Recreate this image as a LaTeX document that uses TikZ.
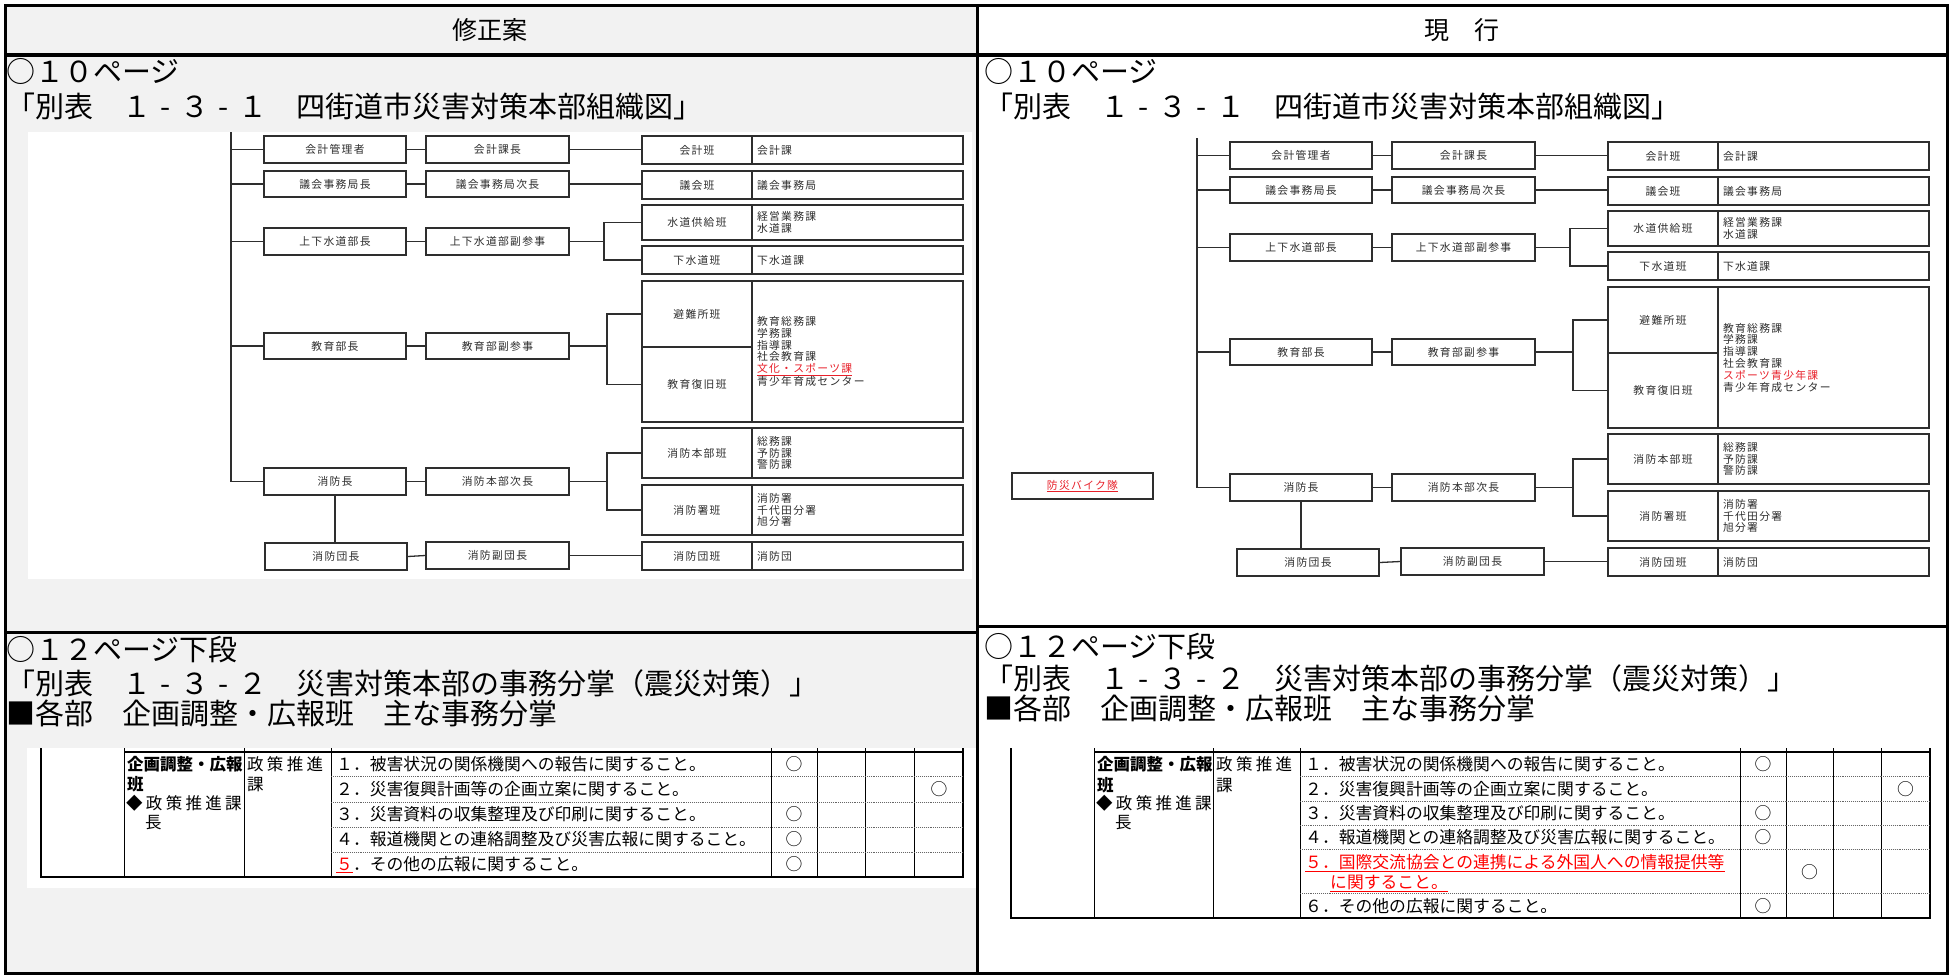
\documentclass[tikz,border=0pt]{standalone}
\usepackage{fontspec}
\setmainfont{Noto Sans CJK JP}
\newfontfamily\jpls[LetterSpace=20]{Noto Sans CJK JP}
\newfontfamily\jpch[LetterSpace=12]{Noto Sans CJK JP}
\newcommand\hy{\makebox[1em][c]{-}}
\definecolor{bggray}{HTML}{F2F2F2}
\definecolor{ink}{HTML}{2E2E2E}
\definecolor{redtxt}{HTML}{E8202A}
\definecolor{tred}{HTML}{FF0000}
\tikzset{
 frameline/.style={line width=3pt, black},
 cbox/.style={draw=ink, line width=1.6pt, fill=white, inner sep=0pt, font=\jpch\fontsize{10.8}{11.8}\selectfont, text=ink},
 rcell/.style={cbox, inner xsep=5pt, text width=201pt, align=left},
 cline/.style={draw=ink, line width=1.3pt},
 head/.style={inner sep=0pt, anchor=west, font=\fontsize{29}{32}\selectfont},
 ttext/.style={inner sep=0pt, anchor=west, font=\fontsize{16.8}{20}\selectfont},
 tbold/.style={inner sep=0pt, anchor=west, font=\bfseries\fontsize{16.5}{20}\selectfont},
 tsp/.style={inner sep=0pt, anchor=west, font=\jpls\fontsize{16.5}{20}\selectfont},
 circ/.style={inner sep=0pt, font=\fontsize{16.8}{20}\selectfont},
 tv/.style={line width=0.9pt, black},
 tdot/.style={line width=0.9pt, black!60, densely dotted},
 tborder/.style={line width=2.5pt, black},
}
\newcommand\orgchart[6]{%
\begin{scope}[shift={(#2,#3)}]
 \node[cbox, minimum width=142, minimum height=27] (#1a1) at (335,149.5) {会計管理者};
 \node[cbox, minimum width=142, minimum height=26] (#1a2) at (335,184) {議会事務局長};
 \node[cbox, minimum width=142, minimum height=27] (#1a3) at (335,241.5) {上下水道部長};
 \node[cbox, minimum width=142, minimum height=26] (#1a4) at (335,346) {教育部長};
 \node[cbox, minimum width=142, minimum height=27] (#1a5) at (335,481.5) {消防長};
 \node[cbox, minimum width=142, minimum height=27] (#1a6) at (336+#4,556.5) {消防団長};
 \node[cbox, minimum width=143, minimum height=27] (#1b1) at (497.5,149.5) {会計課長};
 \node[cbox, minimum width=143, minimum height=26] (#1b2) at (497.5,184) {議会事務局次長};
 \node[cbox, minimum width=143, minimum height=27] (#1b3) at (497.5,241.5) {上下水道部副参事};
 \node[cbox, minimum width=143, minimum height=26] (#1b4) at (497.5,346) {教育部副参事};
 \node[cbox, minimum width=143, minimum height=27] (#1b5) at (497.5,481.5) {消防本部次長};
 \node[cbox, minimum width=143, minimum height=27] (#1b6) at (497.5+#5,555.5) {消防副団長};
 \node[cbox, minimum width=110, minimum height=28] (#1c1) at (697,150) {会計班};
 \node[rcell, minimum height=28] (#1d1) at (857.5,150) {会計課};
 \node[cbox, minimum width=110, minimum height=28] (#1c2) at (697,185) {議会班};
 \node[rcell, minimum height=28] (#1d2) at (857.5,185) {議会事務局};
 \node[cbox, minimum width=110, minimum height=35] (#1c3) at (697,222.5) {水道供給班};
 \node[rcell, minimum height=35] (#1d3) at (857.5,222.5) {経営業務課\\水道課};
 \node[cbox, minimum width=110, minimum height=28] (#1c4) at (697,260) {下水道班};
 \node[rcell, minimum height=28] (#1d4) at (857.5,260) {下水道課};
 \node[cbox, minimum width=110, minimum height=66] (#1c5) at (697,314) {避難所班};
 \node[cbox, minimum width=110, minimum height=75] (#1c6) at (697,384.5) {教育復旧班};
 \node[rcell, minimum height=141] (#1d5) at (857.5,351.5) {教育総務課\\学務課\\指導課\\社会教育課\\#6\\青少年育成センター};
 \node[cbox, minimum width=110, minimum height=50] (#1c7) at (697,453) {消防本部班};
 \node[rcell, minimum height=50] (#1d7) at (857.5,453) {総務課\\予防課\\警防課};
 \node[cbox, minimum width=110, minimum height=50] (#1c8) at (697,510) {消防署班};
 \node[rcell, minimum height=50] (#1d8) at (857.5,510) {消防署\\千代田分署\\旭分署};
 \node[cbox, minimum width=110, minimum height=28] (#1c9) at (697,556) {消防団班};
 \node[rcell, minimum height=28] (#1d9) at (857.5,556) {消防団};
 \coordinate (#1t0) at (231,132);
 \coordinate (#1j3) at (604,241.5);
 \coordinate (#1j4) at (607,346);
 \coordinate (#1j5) at (607,481.5);
 \draw[cline] (#1t0) -- (#1t0 |- #1a5.west);
 \foreach \k in {1,...,5} {
   \draw[cline] (#1a\k.west) -- (#1a\k.west -| #1t0);
   \draw[cline] (#1a\k.east) -- (#1b\k.west);
 }
 \draw[cline] (#1a6.east) -- (#1b6.west);
 \draw[cline] (#1a5.south) -- (#1a5.south |- #1a6.north);
 \draw[cline] (#1b1.east) -- (#1b1.east -| #1c1.west);
 \draw[cline] (#1b2.east) -- (#1b2.east -| #1c2.west);
 \draw[cline] (#1b6.east) -- (#1b6.east -| #1c9.west);
 \draw[cline] (#1b3.east) -- (#1j3);
 \draw[cline] (#1c3.west) -- (#1c3.west -| #1j3) -- (#1c4.west -| #1j3) -- (#1c4.west);
 \draw[cline] (#1b4.east) -- (#1j4);
 \draw[cline] (#1c5.west) -- (#1c5.west -| #1j4) -- (#1c6.west -| #1j4) -- (#1c6.west);
 \draw[cline] (#1b5.east) -- (#1j5);
 \draw[cline] (#1c7.west) -- (#1c7.west -| #1j5) -- (#1c8.west -| #1j5) -- (#1c8.west);
\end{scope}}
\begin{document}
\begin{tikzpicture}[x=1pt,y=-1pt]
\useasboundingbox (0,0) rectangle (1951,975);
\fill[white] (0,0) rectangle (1951,975);
\fill[bggray] (5,5) rectangle (977,973);
% header
\node (hL) at (490,30) {\fontsize{25}{28}\selectfont 修正案};
\node (hR) at (1462,30) {\fontsize{25}{28}\selectfont 現　行};
% top headings
\node[head] (tl1) at (6,71) {○１０ページ};
\node[head] (tl2) at (6,106) {「別表　１\hy３\hy１　四街道市災害対策本部組織図」};
\node[head] (tr1) at (984,71) {○１０ページ};
\node[head] (tr2) at (984,106) {「別表　１\hy３\hy１　四街道市災害対策本部組織図」};
% chart backgrounds
\fill[white] (28,132) rectangle (972,579);
\orgchart{L}{0}{0}{0}{0}{\textcolor{redtxt}{\underline{文化・スポーツ課}}}
\orgchart{R}{966}{6}{6}{9}{\textcolor{redtxt}{スポーツ青少年課}}
\node[cbox, minimum width=141, minimum height=26, text=redtxt] (Rbike) at (1082.5,486) {\underline{防災バイク隊}};
% bottom headings
\node[head] (bl1) at (6,650) {○１２ページ下段};
\node[head] (bl2) at (6,683) {「別表　１\hy３\hy２　災害対策本部の事務分掌（震災対策）」};
\node[head] (bl3) at (6,713) {■各部　企画調整・広報班　主な事務分掌};
\node[head] (br1) at (984,647) {○１２ページ下段};
\node[head] (br2) at (984,678) {「別表　１\hy３\hy２　災害対策本部の事務分掌（震災対策）」};
\node[head] (br3) at (984,708) {■各部　企画調整・広報班　主な事務分掌};
% left table
\fill[white] (27,748) rectangle (976,888);
\foreach \x in {124,244,331,771,817,865,914} \draw[tv] (\x,748) -- (\x,877);
\draw[tborder] (41,748) -- (41,878);
\draw[line width=1.8pt] (963,748) -- (963,878);
\draw[line width=1.8pt] (124,752) -- (963,752);
\foreach \y in {776,802,827,852} \draw[tdot] (331,\y) -- (963,\y);
\draw[tborder] (40,877) -- (964,877);
\node[tbold] (lt1) at (127,764) {企画調整・広報};
\node[tbold] (lt2) at (127,784) {班};
\node[tsp] (lt3) at (126,803) {◆政策推進課};
\node[tsp] (lt4) at (145,823) {長};
\node[tsp] (lt5) at (247,764) {政策推進};
\node[tsp] (lt6) at (247,784) {課};
\node[ttext] (lr1) at (336,764) {１．被害状況の関係機関への報告に関すること。};
\node[ttext] (lr2) at (336,789) {２．災害復興計画等の企画立案に関すること。};
\node[ttext] (lr3) at (336,814.5) {３．災害資料の収集整理及び印刷に関すること。};
\node[ttext] (lr4) at (336,839.5) {４．報道機関との連絡調整及び災害広報に関すること。};
\node[ttext] (lr5) at (336,864.5) {\textcolor{tred}{\underline{５}}．その他の広報に関すること。};
\node[circ] (lc1) at (794,764) {○};
\node[circ] (lc2) at (939,789) {○};
\node[circ] (lc3) at (794,814.5) {○};
\node[circ] (lc4) at (794,839.5) {○};
\node[circ] (lc5) at (794,864.5) {○};
% right table
\foreach \x in {1094,1213,1300,1740,1786,1833,1881} \draw[tv] (\x,748) -- (\x,918);
\draw[tborder] (1011,748) -- (1011,919);
\draw[line width=1.8pt] (1930,748) -- (1930,919);
\draw[line width=1.8pt] (1094,752) -- (1930,752);
\foreach \y in {776,801,825,849,893} \draw[tdot] (1300,\y) -- (1930,\y);
\draw[tborder] (1010,918) -- (1931,918);
\node[tbold] (rt1) at (1097,764) {企画調整・広報};
\node[tbold] (rt2) at (1097,785) {班};
\node[tsp] (rt3) at (1096,803) {◆政策推進課};
\node[tsp] (rt4) at (1115,823) {長};
\node[tsp] (rt5) at (1216,764) {政策推進};
\node[tsp] (rt6) at (1216,785) {課};
\node[ttext] (rr1) at (1305,764) {１．被害状況の関係機関への報告に関すること。};
\node[ttext] (rr2) at (1305,789) {２．災害復興計画等の企画立案に関すること。};
\node[ttext] (rr3) at (1305,813) {３．災害資料の収集整理及び印刷に関すること。};
\node[ttext] (rr4) at (1305,837) {４．報道機関との連絡調整及び災害広報に関すること。};
\node[ttext, text=tred] (rr5a) at (1305,863) {\underline{５．国際交流協会との連携による外国人への情報提供等}};
\node[ttext, text=tred] (rr5b) at (1330,883) {\underline{に関すること。}};
\node[ttext] (rr6) at (1305,906) {６．その他の広報に関すること。};
\node[circ] (rc1) at (1763,764) {○};
\node[circ] (rc2) at (1905.5,789) {○};
\node[circ] (rc3) at (1763,813) {○};
\node[circ] (rc4) at (1763,837) {○};
\node[circ] (rc5) at (1809.5,872) {○};
\node[circ] (rc6) at (1763,906) {○};
% frame
\draw[frameline] (5,5) rectangle (1947,973);
\draw[line width=4pt] (5,55) -- (1947,55);
\draw[frameline] (977,5) -- (977,973);
\draw[frameline] (5,632) -- (977,632);
\draw[frameline] (977,626) -- (1947,626);
\end{tikzpicture}
\end{document}
